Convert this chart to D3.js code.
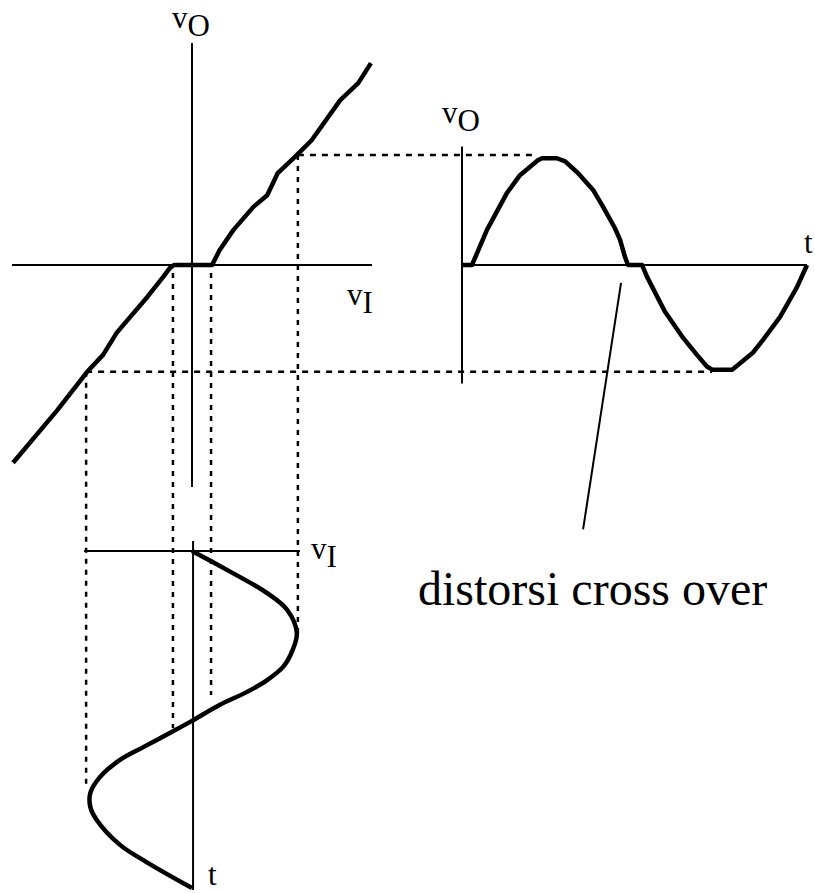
<!DOCTYPE html>
<html>
<head>
<meta charset="utf-8">
<script src="https://cdn.jsdelivr.net/npm/d3@7"></script>
<style>
  html, body { margin: 0; padding: 0; background: #fff; }
  svg { display: block; }
</style>
</head>
<body>
<svg id="vis"></svg>
<script>
// page size of the picture (exact)
const width = 815;
const height = 893;
const serif = "'Liberation Serif', 'DejaVu Serif', serif";

// transfer characteristic vO(vI), vertices
const transferVI = [-1.69, -1.27, -0.99, -0.84, -0.71, -0.42, -0.27, -0.21, -0.17,
    0.19, 0.26, 0.39, 0.58, 0.71, 0.81, 0.97, 1.13, 1.40, 1.57, 1.69];
const transferVO = [-1.87, -1.37, -1.01, -0.85, -0.64, -0.30, -0.11, -0.03, 0,
    0, 0.14, 0.33, 0.55, 0.66, 0.87, 1.02, 1.18, 1.56, 1.72, 1.91];

// input sine vI(t), t goes downwards, one period
const inT = [0, 0.056, 0.125, 0.175, 0.243, 0.294, 0.344, 0.383, 0.418, 0.457, 0.504,
    0.540, 0.582, 0.620, 0.671, 0.718, 0.760, 0.798, 0.872, 0.923, 1.0];
const inVI = [0, 0.33, 0.71, 0.90, 0.99, 0.95, 0.86, 0.71, 0.52, 0.26, 0,
    -0.21, -0.46, -0.68, -0.87, -0.96, -0.96, -0.90, -0.68, -0.43, 0];

// distorted output vO(t), one period
const outT = [0, 0.029, 0.072, 0.130, 0.168, 0.220, 0.232, 0.275, 0.299, 0.336, 0.380,
    0.409, 0.443, 0.458, 0.472, 0.481, 0.522, 0.536, 0.588, 0.641, 0.681, 0.710,
    0.725, 0.783, 0.806, 0.843, 0.872, 0.922, 0.971, 1.0];
const outVO = [0, 0, 0.33, 0.68, 0.85, 0.99, 1.01, 1.01, 0.98, 0.87, 0.71,
    0.55, 0.35, 0.24, 0.08, 0, 0, -0.11, -0.44, -0.69, -0.85, -0.96,
    -0.99, -0.99, -0.93, -0.83, -0.71, -0.49, -0.21, 0];

// projection guides: vI level, vO on the characteristic, t where the input meets it
const guideVI = [-1, -0.18, 0.18, 1];
const guideVO = [-1.01, 0, 0, 1.04];
const guideTIn = [0.70, 0.525, 0.427, 0.243];
// horizontal guides to the output peaks
const peakVO = [1.04, -1.01];
const peakVI = [1, -1];
const peakTOut = [0.22, 0.725];

const caption = "distorsi cross over";

// scales, pixel ranges measured on the picture
const xScale = d3.scaleLinear().domain([-1.7, 1.7]).range([12, 372]);   // vI
const yScale = d3.scaleLinear().domain([-2.1, 2.1]).range([487, 43]);   // vO
const tOut = d3.scaleLinear().domain([0, 1]).range([462, 807]);        // output time
const tIn = d3.scaleLinear().domain([0, 1]).range([551, 888]);         // input time

function addLine(svg, x1, y1, x2, y2, w) {
    return svg.append("line")
        .attr("x1", x1).attr("y1", y1).attr("x2", x2).attr("y2", y2)
        .attr("stroke", "#000").attr("stroke-width", w);
}

function addText(svg, x, y, size, str) {
    return svg.append("text")
        .attr("x", x).attr("y", y)
        .attr("font-family", serif).attr("font-size", size)
        .attr("fill", "#000").text(str);
}

// label like "vO": small v and a lowered capital
function addLabel(svg, x, y, main, sub) {
    const t = addText(svg, x, y, 31, null);
    t.append("tspan").text(main);
    t.append("tspan").attr("dy", 8).text(sub);
    return t;
}

function d3Main() {
    const svg = d3.select("#vis").attr("width", width).attr("height", height);

    // dotted projection lines (under everything)
    const dots = svg.append("g").attr("stroke", "#000").attr("stroke-width", 2.5);
    guideVI.forEach((v, i) => {
        dots.append("line")
            .attr("x1", xScale(v)).attr("x2", xScale(v))
            .attr("y1", yScale(guideVO[i]) + (guideVO[i] === 0 ? 8 : 0))
            .attr("y2", tIn(guideTIn[i]))
            .attr("stroke-dasharray", "5,6");
    });
    peakVO.forEach((v, i) => {
        dots.append("line")
            .attr("x1", xScale(peakVI[i])).attr("x2", tOut(peakTOut[i]))
            .attr("y1", yScale(v)).attr("y2", yScale(v))
            .attr("stroke-dasharray", "6,6");
    });

    // axes of the transfer plot
    addLine(svg, xScale(-1.7), yScale(0), xScale(1.7), yScale(0), 2);
    addLine(svg, xScale(0), yScale(2.1), xScale(0), yScale(-2.1), 2);
    // axes of the output plot
    addLine(svg, tOut(0), yScale(0), tOut(1), yScale(0), 2);
    addLine(svg, tOut(0), yScale(1.12), tOut(0), yScale(-1.12), 2);
    // axes of the input plot
    addLine(svg, xScale(-1.02), tIn(0), xScale(1.02), tIn(0), 2);
    addLine(svg, xScale(0.01), tIn(-0.03), xScale(0.01), tIn(1.006), 2);

    // curves
    const transfer = d3.line()
        .x((d, i) => xScale(d))
        .y((d, i) => yScale(transferVO[i]));
    svg.append("path").attr("d", transfer(transferVI))
        .attr("fill", "none").attr("stroke", "#000").attr("stroke-width", 4.5)
        .attr("stroke-linejoin", "round");

    const output = d3.line()
        .x((d, i) => tOut(d))
        .y((d, i) => yScale(outVO[i]));
    svg.append("path").attr("d", output(outT))
        .attr("fill", "none").attr("stroke", "#000").attr("stroke-width", 4.5)
        .attr("stroke-linejoin", "round");

    const input = d3.line()
        .curve(d3.curveCatmullRom.alpha(0.5))
        .x((d, i) => xScale(inVI[i]))
        .y((d, i) => tIn(d));
    svg.append("path").attr("d", input(inT))
        .attr("fill", "none").attr("stroke", "#000").attr("stroke-width", 4.5)
        .attr("stroke-linejoin", "round");

    // pointer to the crossover flat
    addLine(svg, tOut(0.461), yScale(-0.17), tOut(0.351), yScale(-2.5), 2);

    // labels
    addLabel(svg, 172, 28, "v", "O");
    addLabel(svg, 347, 305, "v", "I");
    addLabel(svg, 442, 123, "v", "O");
    addLabel(svg, 311, 559, "v", "I");
    addText(svg, 804, 253, 31, "t");
    addText(svg, 208, 885, 31, "t");

    addText(svg, 418, 605, 48, caption);
}

d3Main();
</script>
</body>
</html>
